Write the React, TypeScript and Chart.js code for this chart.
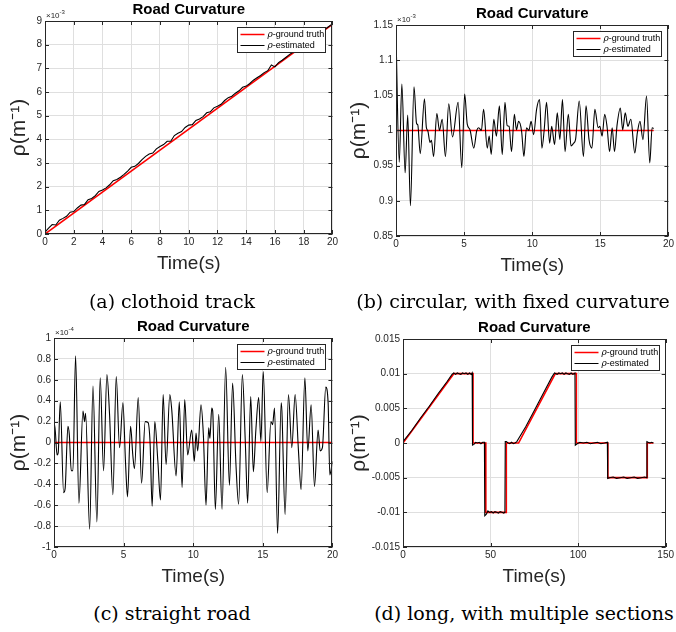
import React, { useEffect, useRef } from "react";
import { Chart, registerables } from "chart.js";

Chart.register(...registerables);

const SANS = "'Liberation Sans', Arial, Helvetica, sans-serif";
const AXIS = "#262626";
const GRID = "#dfdfdf";
const TITLE = "Road Curvature";
const X_LABEL = "Time(s)";
const Y_LABEL = "ρ(m⁻¹)";
const LEGEND_TRUTH = "-ground truth";
const LEGEND_EST = "-estimated";

// ---------- (a) clothoid track, values in ×10^-3 ----------
const clothoidTruthTime = [0, 20];
const clothoidTruth = [0, 8.86];
const clothoidTime = [
  0, 0.25, 0.5, 0.75, 1, 1.25, 1.5, 1.75, 2, 2.25,
  2.5, 2.75, 3, 3.25, 3.5, 3.75, 4, 4.25, 4.5, 4.75,
  5, 5.25, 5.5, 5.75, 6, 6.25, 6.5, 6.75, 7, 7.25,
  7.5, 7.75, 8, 8.25, 8.5, 8.75, 9, 9.25, 9.5, 9.75,
  10, 10.25, 10.5, 10.75, 11, 11.25, 11.5, 11.75, 12, 12.25,
  12.5, 12.75, 13, 13.25, 13.5, 13.75, 14, 14.25, 14.5, 14.75,
  15, 15.25, 15.5, 15.75, 16, 16.25, 16.5, 16.75, 17, 17.25,
  17.5, 17.75, 18, 18.25, 18.5, 18.75, 19, 19.25, 19.5, 19.75,
  20,
];
const clothoidEstimated = [
  0.08, 0.25, 0.4, 0.38, 0.58, 0.66, 0.75, 0.92, 0.95, 1.1,
  1.22, 1.25, 1.45, 1.5, 1.62, 1.8, 1.86, 1.95, 2.08, 2.25,
  2.3, 2.4, 2.52, 2.66, 2.82, 2.86, 2.98, 3.14, 3.28, 3.38,
  3.42, 3.6, 3.7, 3.78, 3.92, 3.92, 4.16, 4.26, 4.33, 4.5,
  4.6, 4.62, 4.8, 4.86, 4.96, 5.12, 5.16, 5.33, 5.4, 5.48,
  5.64, 5.76, 5.82, 5.95, 6.05, 6.2, 6.25, 6.36, 6.5, 6.6,
  6.7, 6.82, 6.9, 7.14, 7.06, 7.24, 7.34, 7.46, 7.58, 7.68,
  7.8, 7.92, 8.02, 8.12, 8.23, 8.34, 8.45, 8.56, 8.66, 8.77,
  8.87,
];

// ---------- (b) circular, values in ×10^-3 ----------
const circularTruthTime = [0, 18.92];
const circularTruth = [1, 1];
const circularTime = [
  0, 0.24, 0.43, 0.67, 0.86, 1.06, 1.32, 1.51, 1.6, 1.78,
  2.09, 2.23, 2.33, 2.5, 2.6, 2.76, 3.0, 3.19, 3.39, 3.63,
  3.87, 4.15, 4.56, 4.83, 5.04, 5.23, 5.43, 5.71, 5.93, 6.07,
  6.27, 6.43, 6.7, 6.84, 6.99, 7.18, 7.37, 7.59, 7.8, 8.0,
  8.16, 8.3, 8.48, 8.69, 8.84, 9.0, 9.22, 9.39, 9.58, 9.75,
  9.92, 10.1, 10.32, 10.54, 10.71, 10.88, 11.05, 11.28, 11.43, 11.64,
  11.84, 12.03, 12.22, 12.41, 12.65, 12.85, 13.04, 13.18, 13.45, 13.76,
  13.95, 14.17, 14.38, 14.6, 14.84, 14.96, 15.13, 15.32, 15.49, 15.68,
  15.87, 16.04, 16.23, 16.47, 16.64, 16.83, 17.02, 17.24, 17.53, 17.72,
  17.91, 18.13, 18.39, 18.63, 18.8, 18.92,
];
const circularEstimated = [
  1.136, 0.955, 1.066, 0.94, 1.022, 0.893, 1.062, 1.01, 1.008, 0.967,
  1.045, 1.004, 1.0, 0.983, 0.986, 0.963, 1.024, 1.0, 1.016, 0.963,
  1.038, 0.991, 1.04, 0.947, 1.052, 1.009, 1.001, 0.975, 1.0, 1.004,
  1.0, 1.03, 0.975, 0.992, 0.966, 1.016, 0.992, 1.035, 0.966, 1.04,
  1.007, 1.006, 0.97, 1.023, 1.001, 1.013, 0.999, 0.963, 1.004, 1.0,
  1.013, 0.994, 1.03, 1.044, 0.975, 1.001, 1.04, 0.982, 1.006, 0.98,
  1.025, 0.987, 1.044, 0.97, 1.023, 0.978, 0.982, 0.987, 1.042, 0.963,
  1.035, 0.987, 0.975, 1.03, 1.004, 1.006, 0.992, 1.023, 1.006, 0.97,
  1.004, 0.97, 1.008, 1.032, 1.001, 1.025, 1.006, 1.016, 0.968, 0.997,
  1.013, 0.987, 1.049, 0.954, 1.004, 1.003,
];

// ---------- (c) straight road, values in ×10^-4 ----------
const straightTruthTime = [0, 20];
const straightTruth = [0, 0];
const straightTime = [
  0, 0.05, 0.22, 0.3, 0.45, 0.69, 0.8, 1.0, 1.1, 1.24,
  1.36, 1.55, 1.79, 2.08, 2.2, 2.27, 2.56, 2.8, 3.08, 3.32,
  3.56, 3.8, 3.99, 4.23, 4.47, 4.71, 4.95, 5.14, 5.28, 5.5,
  5.66, 5.78, 6.05, 6.29, 6.55, 6.76, 6.9, 7.05, 7.24, 7.46,
  7.65, 7.84, 8.05, 8.32, 8.46, 8.77, 9.0, 9.2, 9.39, 9.6,
  9.89, 10.08, 10.2, 10.32, 10.56, 10.73, 10.92, 11.11, 11.2, 11.33,
  11.4, 11.59, 11.83, 12.07, 12.33, 12.6, 12.83, 13.07, 13.26, 13.53,
  13.74, 13.91, 14.13, 14.32, 14.5, 14.7, 14.86, 15.03, 15.31, 15.58,
  15.7, 15.84, 16.06, 16.32, 16.37, 16.6, 16.84, 17.08, 17.32, 17.56,
  17.75, 18.02, 18.23, 18.47, 18.71, 18.97, 19.12, 19.28, 19.52, 19.69,
  19.81, 20.0,
];
const straightEstimated = [
  0.02, 0.17, -0.12, -0.1, 0.39, -0.48, -0.44, 0.155, 0.075, -0.27,
  -0.27, 0.83, -0.58, 0.3, 0.2, 0.28, -0.83, 0.54, -0.76, 0.62,
  -0.27, 0.65, 0.27, -0.5, 0.63, -0.05, 0.38, -0.2, -0.52, 0.155,
  -0.12, -0.25, 0.43, -0.39, 0.2, 0.19, 0.0, -0.61, 0.2, -0.18,
  -0.55, 0.46, -0.21, 0.46, 0.31, -0.32, 0.39, -0.43, 0.41, -0.12,
  0.12, -0.18, 0.09, -0.08, 0.36, 0.07, -0.6, 0.14, 0.04, 0.33,
  0.3, -0.64, 0.27, -0.64, 0.72, -0.41, 0.57, -0.21, -0.59, 0.65,
  0.01, -0.58, 0.44, -0.28, 0.12, 0.43, 0.01, 0.68, -0.48, 0.2,
  0.17, 0.33, -0.87, 0.38, 0.3, -0.69, 0.46, -0.05, 0.46, -0.08,
  -0.45, 0.62, -0.08, 0.36, -0.42, 0.12, -0.08, -0.05, 0.53, 0.38,
  -0.31, -0.18,
];

// ---------- (d) long, with multiple sections ----------
const longTruthTime = [0, 29, 40, 40, 47.3, 47.3, 59, 59, 66, 87, 99, 99, 117, 117, 139.5, 139.5, 143];
const longTruth = [0, 0.01, 0.01, 0, 0, -0.01, -0.01, 0, 0, 0.01, 0.01, 0, 0, -0.005, -0.005, 0, 0];
const longTime = [
  0, 5, 10, 15, 20, 25, 28, 29, 30, 31, 32, 33, 34, 35, 36, 37, 38, 39, 39.5,
  39.7, 40.5, 41.5, 42.5, 43.5, 44.5, 45.5, 46.5,
  46.7, 47.5, 48.5, 49.5, 50.5, 51.5, 52.5, 53.5, 54.5, 55.5, 56.5, 57.5, 58.2,
  58.4, 59, 60, 61, 62, 63, 64, 65,
  70, 75, 80, 85, 86.5, 88, 89, 90, 91, 92, 93, 94, 95, 96, 97, 98.2,
  98.4, 99.5, 101, 103, 105, 107, 109, 111, 113, 115, 116.7,
  116.9, 118, 120, 122, 124, 126, 128, 130, 132, 134, 136, 138, 139.1,
  139.3, 140, 141, 142, 143,
];
const longEstimated = [
  0.0002, 0.0018, 0.0036, 0.0053, 0.0071, 0.0088, 0.0099, 0.0101, 0.0099, 0.0101, 0.0100, 0.0099, 0.0101, 0.0100, 0.0101, 0.0099, 0.0101, 0.0099, 0.0101,
  -0.0003, -0.0002, 0.0001, 0.0000, 0.0001, -0.0001, 0.0001, 0.0001,
  -0.0105, -0.0103, -0.0098, -0.0100, -0.0099, -0.0101, -0.0099, -0.0100, -0.0101, -0.0099, -0.0100, -0.0101, -0.0100,
  0.0002, 0.0002, 0.0000, -0.0001, 0.0001, -0.0001, 0.0000, 0.0002,
  0.0023, 0.0047, 0.0071, 0.0095, 0.0101, 0.0099, 0.0101, 0.0100, 0.0101, 0.0099, 0.0101, 0.0100, 0.0099, 0.0101, 0.0099, 0.0101,
  -0.0003, -0.0001, 0.0001, 0.0000, 0.0001, -0.0001, 0.0000, 0.0001, -0.0001, 0.0000, 0.0001,
  -0.0051, -0.0050, -0.0049, -0.0051, -0.0050, -0.0049, -0.0051, -0.0050, -0.0049, -0.0051, -0.0050, -0.0049, -0.0050,
  0.0002, 0.0001, 0.0000, 0.0001, 0.0000,
];

type PanelSpec = {
  left: number; top: number; w: number; h: number;
  pad: { top: number; right: number; bottom: number; left: number };
  yW: number; xH: number;
  xMin: number; xMax: number; xStep: number;
  yMin: number; yMax: number; yStep: number;
  exp: string | null;
  truthT: number[]; truthV: number[];
  estT: number[]; estV: number[];
  smooth: boolean;
};

const panels: PanelSpec[] = [
  {
    left: 0, top: 0, w: 340, h: 285,
    pad: { top: 21, right: 7, bottom: 10, left: 0 }, yW: 45, xH: 41,
    xMin: 0, xMax: 20, xStep: 2, yMin: 0, yMax: 9, yStep: 1, exp: "-3",
    truthT: clothoidTruthTime, truthV: clothoidTruth, estT: clothoidTime, estV: clothoidEstimated, smooth: false,
  },
  {
    left: 340, top: 0, w: 336, h: 285,
    pad: { top: 25, right: 4, bottom: 8, left: 0 }, yW: 56, xH: 41,
    xMin: 0, xMax: 20, xStep: 5, yMin: 0.85, yMax: 1.15, yStep: 0.05, exp: "-3",
    truthT: circularTruthTime, truthV: circularTruth, estT: circularTime, estV: circularEstimated, smooth: true,
  },
  {
    left: 0, top: 310, w: 340, h: 285,
    pad: { top: 28, right: 7, bottom: 7, left: 0 }, yW: 54, xH: 41,
    xMin: 0, xMax: 20, xStep: 5, yMin: -1, yMax: 1, yStep: 0.2, exp: "-4",
    truthT: straightTruthTime, truthV: straightTruth, estT: straightTime, estV: straightEstimated, smooth: true,
  },
  {
    left: 340, top: 310, w: 336, h: 285,
    pad: { top: 29, right: 5, bottom: 7, left: 0 }, yW: 63, xH: 41,
    xMin: 0, xMax: 150, xStep: 50, yMin: -0.015, yMax: 0.015, yStep: 0.005, exp: null,
    truthT: longTruthTime, truthV: longTruth, estT: longTime, estV: longEstimated, smooth: false,
  },
];

const captions = [
  { text: "(a) clothoid track", cx: 172, top: 290 },
  { text: "(b) circular, with fixed curvature", cx: 513, top: 290 },
  { text: "(c) straight road", cx: 172, top: 602 },
  { text: "(d) long, with multiple sections", cx: 524, top: 602 },
];

function fmt(v: number): string {
  return String(parseFloat(Number(v).toFixed(6)));
}

function Panel({ p }: { p: PanelSpec }) {
  const ref = useRef<HTMLCanvasElement>(null);
  useEffect(() => {
    const canvas = ref.current;
    if (!canvas) return;
    const est = p.estT.map((t, i) => ({ x: t, y: p.estV[i] }));
    const truth = p.truthT.map((t, i) => ({ x: t, y: p.truthV[i] }));

    const decor = {
      id: "matlabDecor",
      afterDatasetsDraw(chart: any) {
        const { ctx, chartArea: a, scales } = chart;
        ctx.save();
        ctx.strokeStyle = AXIS;
        ctx.lineWidth = 1;
        ctx.beginPath();
        for (const t of scales.x.ticks) {
          const px = Math.round(scales.x.getPixelForValue(t.value)) + 0.5;
          ctx.moveTo(px, a.bottom); ctx.lineTo(px, a.bottom - 4);
          ctx.moveTo(px, a.top); ctx.lineTo(px, a.top + 4);
        }
        for (const t of scales.y.ticks) {
          const py = Math.round(scales.y.getPixelForValue(t.value)) + 0.5;
          ctx.moveTo(a.left, py); ctx.lineTo(a.left + 4, py);
          ctx.moveTo(a.right, py); ctx.lineTo(a.right - 4, py);
        }
        ctx.stroke();
        ctx.strokeRect(Math.round(a.left) + 0.5, Math.round(a.top) + 0.5,
          Math.round(a.right - a.left) - 1, Math.round(a.bottom - a.top) - 1);

        // title
        ctx.fillStyle = "#000";
        ctx.font = `bold 15px ${SANS}`;
        ctx.textAlign = "center";
        ctx.textBaseline = "middle";
        ctx.fillText(TITLE, (a.left + a.right) / 2, a.top - 11);

        // exponent
        if (p.exp) {
          ctx.fillStyle = AXIS;
          ctx.textAlign = "left";
          ctx.textBaseline = "alphabetic";
          ctx.font = `8px ${SANS}`;
          ctx.fillText("×10", a.left + 1, a.top - 3.5);
          const w = ctx.measureText("×10").width;
          ctx.font = `6px ${SANS}`;
          ctx.fillText(p.exp, a.left + 1 + w, a.top - 7.5);
        }

        // legend
        const bw = 88, bh = 25;
        const bx = Math.round(a.right - 7 - bw) + 0.5;
        const by = Math.round(a.top + 6) + 0.5;
        ctx.fillStyle = "#fff";
        ctx.fillRect(bx, by, bw, bh);
        ctx.strokeStyle = AXIS;
        ctx.lineWidth = 1;
        ctx.strokeRect(bx, by, bw, bh);
        const rows = [
          { color: "#ff0000", width: 1.5, label: LEGEND_TRUTH },
          { color: "#000000", width: 1, label: LEGEND_EST },
        ];
        rows.forEach((r, i) => {
          const y = by + 7 + i * 11;
          ctx.strokeStyle = r.color;
          ctx.lineWidth = r.width;
          ctx.beginPath();
          ctx.moveTo(bx + 3, y); ctx.lineTo(bx + 27, y);
          ctx.stroke();
          ctx.fillStyle = "#000";
          ctx.textBaseline = "middle";
          ctx.textAlign = "left";
          ctx.font = `italic 9px 'DejaVu Serif', serif`;
          ctx.fillText("ρ", bx + 30, y);
          const rw = ctx.measureText("ρ").width;
          ctx.font = `9px ${SANS}`;
          ctx.fillText(r.label, bx + 30 + rw, y);
        });
        ctx.restore();
      },
    };

    const chart = new Chart(canvas, {
      type: "line",
      data: {
        datasets: [
          {
            label: "ρ" + LEGEND_EST,
            data: est,
            borderColor: "#000000",
            borderWidth: 1.1,
            pointRadius: 0,
            cubicInterpolationMode: p.smooth ? "monotone" : "default",
            tension: 0,
          },
          {
            label: "ρ" + LEGEND_TRUTH,
            data: truth,
            borderColor: "#ff0000",
            borderWidth: 1.6,
            pointRadius: 0,
            tension: 0,
          },
        ],
      },
      options: {
        responsive: false,
        animation: false,
        events: [],
        layout: { autoPadding: false, padding: p.pad },
        plugins: { legend: { display: false }, title: { display: false }, tooltip: { enabled: false } },
        scales: {
          x: {
            type: "linear",
            min: p.xMin, max: p.xMax,
            afterFit: (s: any) => { s.height = p.xH; },
            ticks: {
              stepSize: p.xStep, autoSkip: false, maxRotation: 0, padding: 2,
              color: AXIS, font: { family: SANS, size: 10 },
              callback: (v: any) => fmt(v),
            },
            grid: { color: GRID, drawTicks: false, lineWidth: 1 },
            border: { display: false },
            title: {
              display: true, text: X_LABEL, color: AXIS,
              font: { family: SANS, size: 19 }, padding: { top: 0, bottom: 0 },
            },
          },
          y: {
            type: "linear",
            min: p.yMin, max: p.yMax,
            afterFit: (s: any) => { s.width = p.yW; },
            ticks: {
              stepSize: p.yStep, autoSkip: false, padding: 3,
              color: AXIS, font: { family: SANS, size: 10 },
              callback: (v: any) => fmt(v),
            },
            grid: { color: GRID, drawTicks: false, lineWidth: 1 },
            border: { display: false },
            title: {
              display: true, text: Y_LABEL, color: AXIS,
              font: { family: SANS, size: 21 }, padding: { top: 7, bottom: 0 },
            },
          },
        },
      },
      plugins: [decor],
    } as any);
    return () => chart.destroy();
  }, [p]);

  return (
    <canvas
      ref={ref}
      width={p.w}
      height={p.h}
      style={{ position: "absolute", left: p.left, top: p.top, width: p.w, height: p.h }}
    />
  );
}

export default function App() {
  return (
    <div
      style={{
        position: "fixed", left: 0, top: 0, width: 676, height: 632,
        overflow: "hidden", background: "#fff",
      }}
    >
      {panels.map((p, i) => <Panel key={i} p={p} />)}
      {captions.map((c, i) => (
        <div
          key={"c" + i}
          style={{
            position: "absolute", left: c.cx - 250, width: 500, top: c.top,
            textAlign: "center", whiteSpace: "nowrap",
            fontFamily: "'DejaVu Serif', serif", fontSize: 19, lineHeight: "22px", color: "#000",
          }}
        >
          {c.text}
        </div>
      ))}
    </div>
  );
}
